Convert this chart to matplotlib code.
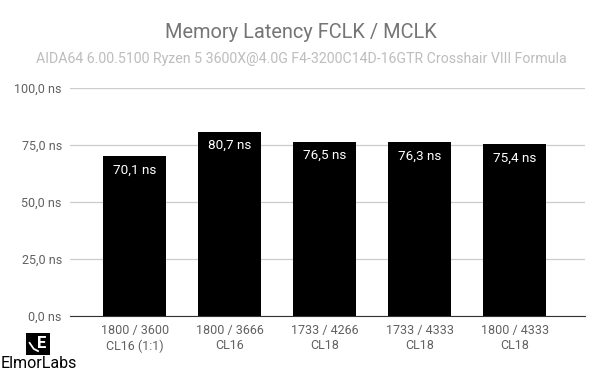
import matplotlib.pyplot as plt
from matplotlib.patches import FancyBboxPatch

categories = ["1800 / 3600\nCL16 (1:1)", "1800 / 3666\nCL16", "1733 / 4266\nCL18",
              "1733 / 4333\nCL18", "1800 / 4333\nCL18"]
latency = [70.1, 80.7, 76.5, 76.3, 75.4]
yticks = [0, 25, 50, 75, 100]

plt.rcParams["font.family"] = ["Roboto", "DejaVu Sans"]

fig = plt.figure(figsize=(6, 3.71), dpi=100)
ax = fig.add_axes([0.117, 0.148, 0.858, 0.615])

x = range(len(categories))
bars = ax.bar(x, latency, width=0.66, color="black", zorder=2)
for b, v in zip(bars, latency):
    ax.text(b.get_x() + b.get_width() / 2, v - 3.2, f"{v:.1f} ns".replace(".", ","),
            ha="center", va="top", color="white", fontsize=9.7)

ax.set_xlim(-0.68, 4.74)
ax.set_ylim(0, 100)
ax.set_yticks(yticks)
ax.set_yticklabels([f"{t:.1f} ns".replace(".", ",") for t in yticks])
ax.set_xticks(list(x))
ax.set_xticklabels(categories)
ax.tick_params(length=0, colors="#616161", labelsize=9, pad=6)
ax.grid(axis="y", color="#cccccc", linewidth=0.9, zorder=0)
for s in ["top", "right", "left"]:
    ax.spines[s].set_visible(False)
ax.spines["bottom"].set_color("#333333")

fig.text(0.502, 1 - 38 / 371, "Memory Latency FCLK / MCLK", ha="center", va="baseline",
         fontsize=14.4, color="#757575")
fig.text(0.502, 1 - 63 / 371, "AIDA64 6.00.5100 Ryzen 5 3600X@4.0G F4-3200C14D-16GTR Crosshair VIII Formula",
         ha="center", va="baseline", fontsize=10.2, color="#bdbdbd")

# logo
logo = fig.add_axes([26 / 600, 16 / 371, 24 / 600, 22 / 371])
logo.add_patch(FancyBboxPatch((0, 0), 1, 1, boxstyle="round,pad=0,rounding_size=0.08",
                              color="black"))
logo.text(0.64, 0.52, "E", color="white", ha="center", va="center", fontsize=12, fontweight="bold")
logo.plot([0.15, 0.32, 0.5], [0.55, 0.28, 0.18], color="white", lw=1.3)
logo.set_xlim(0, 1)
logo.set_ylim(0, 1)
logo.axis("off")
fig.text(0.065, 1 - 368 / 371, "ElmorLabs", ha="center", va="baseline", fontsize=11.5, color="black")

fig.savefig("out.png")
